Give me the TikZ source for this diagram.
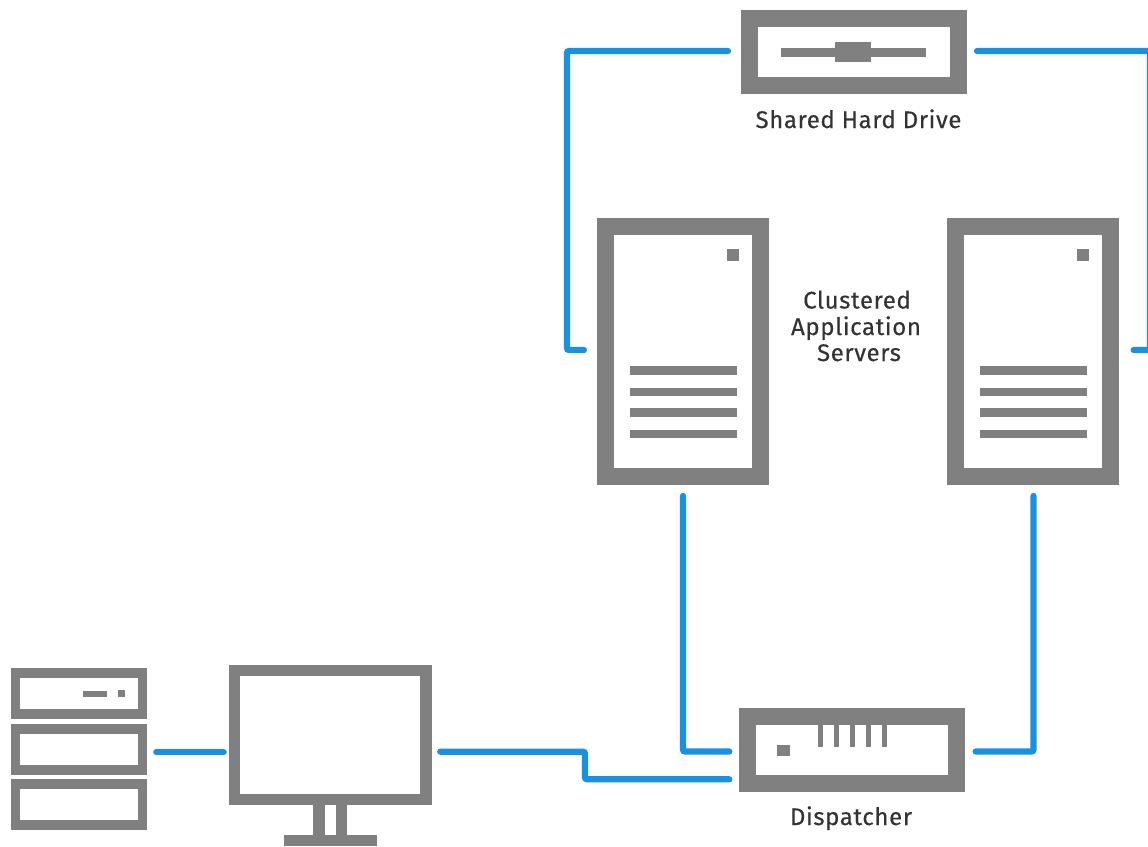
\documentclass[tikz,border=0pt]{standalone}
\usepackage{fontspec}
\setmainfont{Fira Sans}[LetterSpace=2.5,FakeBold=0.35]
\definecolor{devgrey}{HTML}{808080}
\definecolor{linkblue}{HTML}{1A90E0}
\definecolor{labelgrey}{HTML}{333333}
\tikzset{
  devbox/.style={draw=devgrey,fill=white,inner sep=0pt,rectangle},
  link/.style={draw=linkblue,line width=6.2pt,line cap=round,rounded corners=2pt},
  lab/.style={inner sep=0pt,anchor=base,text=labelgrey,font=\fontsize{24}{28}\selectfont,align=center},
  detail/.style={fill=devgrey},
}
\begin{document}
\begin{tikzpicture}[x=1pt,y=-1pt]
\path[use as bounding box,fill=white] (0,0) rectangle (1148,846);
\clip (0,0) rectangle (1148,846);

% devices
\node[devbox,line width=17pt,minimum width=209pt,minimum height=67.8pt] (drive) at (853.7,51.9) {};
\fill[detail] (781,47.7) rectangle (926,56.7);
\fill[detail] (835.3,42.3) rectangle (871,61.7);
\node[lab] (driveLabel) at (858.5,128) {Shared Hard Drive};

\foreach \nm/\cx in {serverA/683,serverB/1033}{
  \node[devbox,line width=17pt,minimum width=154.3pt,minimum height=249.7pt] (\nm) at (\cx,351.6) {};
  \fill[detail] (\cx+43.7,249.3) rectangle (\cx+55.7,260.7);
  \foreach \ya/\yb in {366/375,387.7/396,408.3/416.7,430/438.3}{
    \fill[detail] (\cx-53.5,\ya) rectangle (\cx+53.5,\yb);
  }
}
\node[lab] (clA) at (857,308.5) {Clustered};
\node[lab] (clB) at (856,335) {Application};
\node[lab] (clC) at (859,361) {Servers};

\node[devbox,line width=16.3pt,minimum width=209.1pt,minimum height=67.1pt] (disp) at (852,750) {};
\foreach \px in {817.7,833.7,850,866,881.7}{
  \fill[detail] (\px,724.7) rectangle (\px+5,746.7);
}
\fill[detail] (776.7,745) rectangle (789.7,756);
\node[lab] (dispLabel) at (851,825) {Dispatcher};

\foreach \nm/\cy in {rackA/693.7,rackB/749.2,rackC/804.7}{
  \node[devbox,line width=9.7pt,minimum width=126.9pt,minimum height=41pt] (\nm) at (79,\cy) {};
}
\fill[detail] (83.3,690.7) rectangle (107,696.7);
\fill[detail] (118.3,690) rectangle (125.3,697);

\node[devbox,line width=11.2pt,minimum width=191.5pt,minimum height=128.8pt] (mon) at (330.3,735) {};
\fill[detail] (313.3,805) rectangle (325,835);
\fill[detail] (336,805) rectangle (347.3,835);
\fill[detail] (283.7,835) rectangle (377.3,846);

% connector bends
\coordinate (busL) at (567,200);
\coordinate (busR) at (1150,200);
\coordinate (bend) at (585,765);

% connectors
\draw[link,shorten <=12.7pt,shorten >=13.4pt] ([yshift=.9pt]drive.west) -| (busL) |- ([yshift=1.6pt]serverA.west);
\draw[link,shorten <=10.3pt,shorten >=15pt] ([yshift=.9pt]drive.east) -| (busR) |- ([yshift=1.6pt]serverB.east);
\draw[link,shorten <=11pt,shorten >=10pt] (serverA.south) |- ([yshift=-1.5pt]disp.west);
\draw[link,shorten <=11pt,shorten >=11pt] ([xshift=.5pt]serverB.south) |- ([yshift=-1.5pt]disp.east);
\draw[link,shorten <=9pt,shorten >=5.3pt] ([yshift=-3pt]rackB.east) -- ([yshift=-17.2pt]mon.west);
\draw[link,shorten <=8.6pt,shorten >=10pt] ([yshift=-16.7pt]mon.east) -| (bend) |- ([yshift=-29.3pt]disp.west);
\end{tikzpicture}
\end{document}
